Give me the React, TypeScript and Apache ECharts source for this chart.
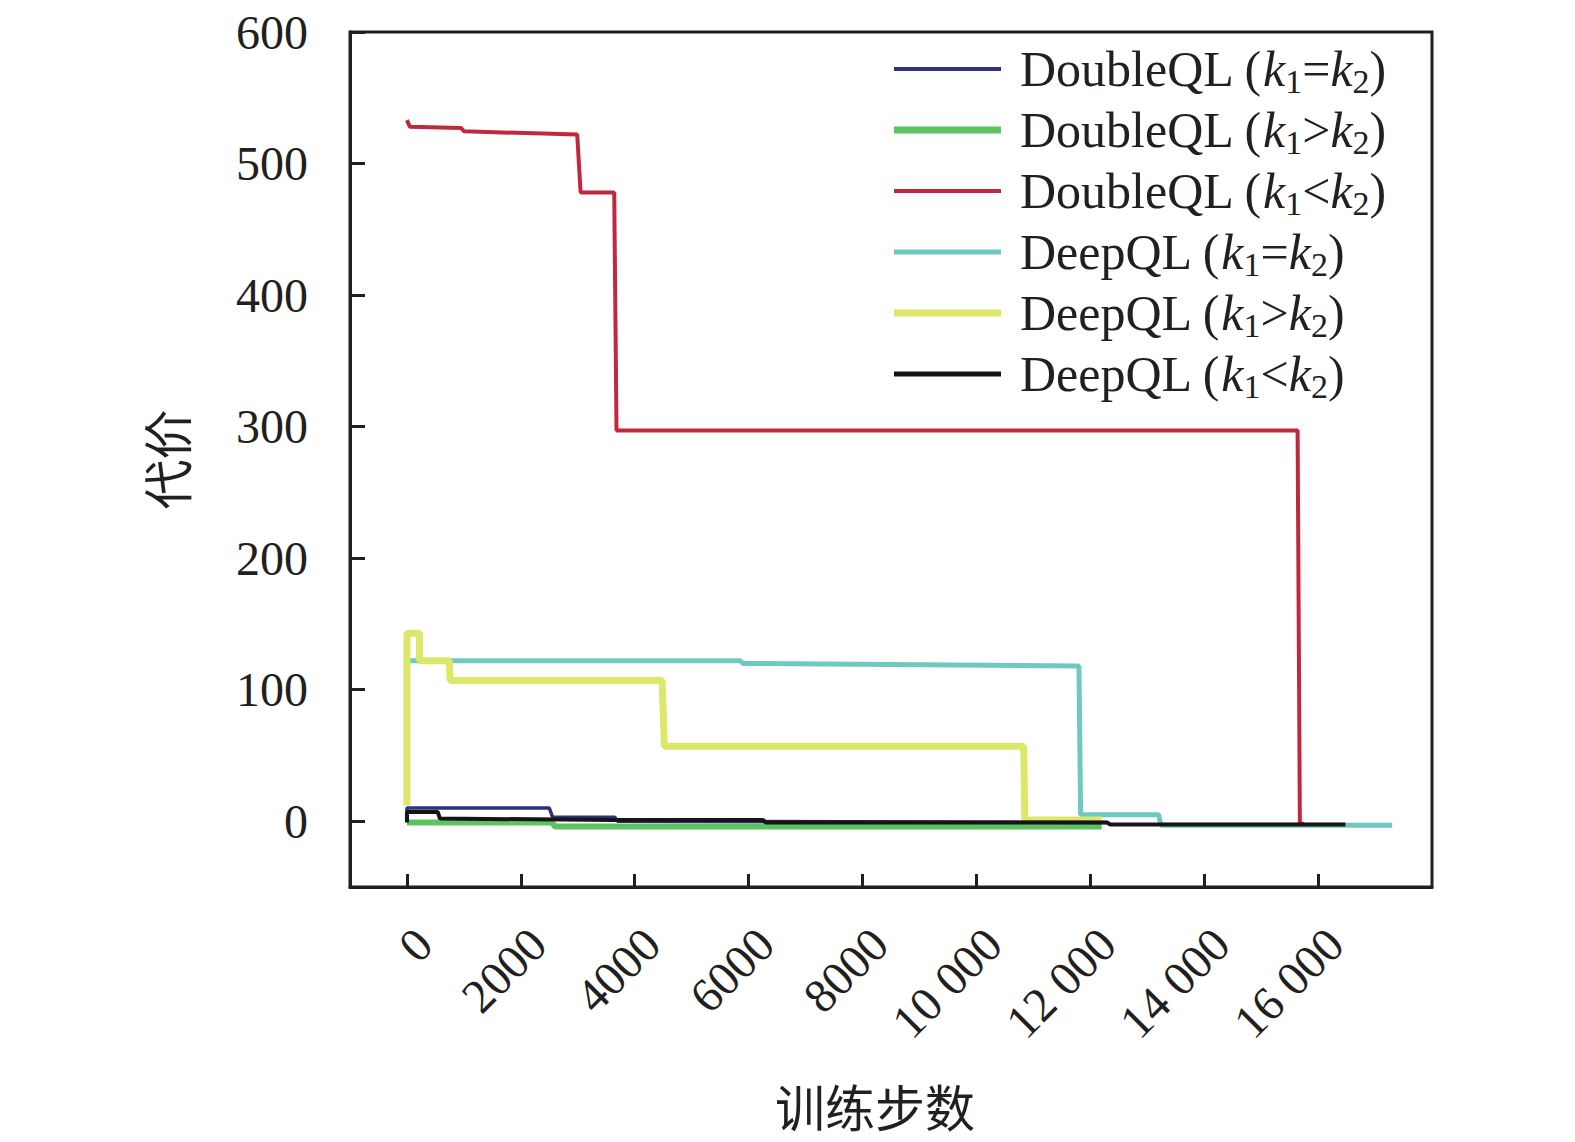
import React, { useEffect, useRef } from "react";
import * as echarts from "echarts";

// ---- data (training step, cost) ----
const doubleEq: [number, number][] = [
  [0, 0], [0, 10], [2500, 10], [2560, 3], [3650, 3], [3700, 0], [12300, -1],
];
const doubleGt: [number, number][] = [
  [0, -1], [2550, -1], [2600, -4], [12200, -4],
];
const doubleLt: [number, number][] = [
  [0, 533], [50, 528], [950, 527], [1000, 524.5], [2990, 522], [3050, 478],
  [3640, 478], [3680, 297], [15640, 297], [15680, -2], [15750, -2],
];
const deepEq: [number, number][] = [
  [0, 122], [5850, 122], [5900, 120], [11800, 118], [11830, 5], [13200, 5],
  [13240, -3], [17300, -3],
];
const deepGt: [number, number][] = [
  [0, 12], [0, 143], [220, 143], [220, 122], [740, 122], [760, 107],
  [4480, 107], [4520, 57], [10830, 57], [10850, 1], [12200, 1],
];
const deepLt: [number, number][] = [
  [0, -1], [0, 7], [540, 7], [580, 2], [3650, 1], [6250, 1], [6300, -1],
  [12300, -1], [12350, -2.5], [16480, -2.5],
];

const seriesNames = [
  "DoubleQL (k1=k2)",
  "DoubleQL (k1>k2)",
  "DoubleQL (k1<k2)",
  "DeepQL (k1=k2)",
  "DeepQL (k1>k2)",
  "DeepQL (k1<k2)",
];
const richNames = [
  "DoubleQL ({i|k}{s|1}={i|k}{s|2})",
  "DoubleQL ({i|k}{s|1}>{i|k}{s|2})",
  "DoubleQL ({i|k}{s|1}<{i|k}{s|2})",
  "DeepQL ({i|k}{s|1}={i|k}{s|2})",
  "DeepQL ({i|k}{s|1}>{i|k}{s|2})",
  "DeepQL ({i|k}{s|1}<{i|k}{s|2})",
];
const xTickValues = [0, 2000, 4000, 6000, 8000, 10000, 12000, 14000, 16000];
const xTickLabels = ["0", "2000", "4000", "6000", "8000", "10 000", "12 000", "14 000", "16 000"];
const yTickValues = [0, 100, 200, 300, 400, 500, 600];
const yTickLabels = ["0", "100", "200", "300", "400", "500", "600"];

const colors = ["#2e3180", "#5dc35f", "#c1283e", "#6fc9c2", "#dde76a", "#151515"];
const widths = [3.5, 6, 4, 5, 7, 4];
const legendThickness = [4, 7, 4, 5, 7, 5];

const SERIF = "'Liberation Serif', 'Times New Roman', serif";
const CJK = "'Noto Sans CJK SC', sans-serif";
const INK = "#231f20";

function bandIcon(t: number): string {
  const h = 14;
  const y0 = (h - t) / 2;
  const y1 = y0 + t;
  return `path://M0,0L0.01,0L0,0.01Z M0,${h}L0.01,${h}L0,${h - 0.01}Z M0,${y0}L107,${y0}L107,${y1}L0,${y1}Z`;
}

export default function App() {
  const ref = useRef<HTMLDivElement>(null);
  useEffect(() => {
    if (!ref.current) return;
    const chart = echarts.init(ref.current, undefined, { renderer: "svg" });
    const datas = [doubleEq, doubleGt, doubleLt, deepEq, deepGt, deepLt];
    // drawing order (later = on top)
    const order = [1, 3, 4, 2, 0, 5];
    const series = order.map((i) => ({
      name: seriesNames[i],
      type: "line",
      data: datas[i],
      showSymbol: false,
      symbol: "none",
      color: colors[i],
      lineStyle: { color: colors[i], width: widths[i] },
      z: 2,
    }));
    chart.setOption({
      animation: false,
      backgroundColor: "#ffffff",
      grid: {
        left: 350,
        right: 143,
        top: 32,
        bottom: 255,
        show: true,
        borderColor: INK,
        borderWidth: 3,
        backgroundColor: "transparent",
      },
      legend: {
        data: seriesNames.map((n, i) => ({
          name: n,
          icon: bandIcon(legendThickness[i]),
          itemStyle: { color: colors[i], borderWidth: 0 },
        })),
        orient: "vertical",
        left: 889,
        top: 35,
        itemWidth: 107,
        itemHeight: 14,
        itemGap: 3,
        formatter: (name: string) => richNames[seriesNames.indexOf(name)],
        textStyle: {
          fontFamily: SERIF,
          fontSize: 50,
          lineHeight: 54,
          color: INK,
          padding: [0, 0, 0, 14],
          rich: {
            i: { fontFamily: SERIF, fontStyle: "italic", fontSize: 50, lineHeight: 54, color: INK },
            s: { fontFamily: SERIF, fontSize: 34, lineHeight: 30, padding: [24, 0, 0, 0], color: INK },
          },
        },
      },
      xAxis: {
        type: "value",
        min: -1000,
        max: 18000,
        interval: 1000,
        name: "训练步数",
        nameLocation: "middle",
        nameGap: 193,
        nameTextStyle: { fontFamily: CJK, fontSize: 50, color: INK, padding: [0, 32, 0, 0] },
        axisLine: { show: true, onZero: false, lineStyle: { color: INK, width: 3 } },
        axisTick: {
          show: true,
          inside: true,
          length: 13,
          lineStyle: { color: INK, width: 3 },
          customValues: xTickValues,
        },
        axisLabel: {
          rotate: 45,
          margin: 66,
          fontFamily: SERIF,
          fontSize: 48,
          color: INK,
          padding: [0, -24, 0, 0],
          customValues: xTickValues,
          formatter: (v: number) => {
            const k = xTickValues.indexOf(v);
            return k >= 0 ? xTickLabels[k] : "";
          },
        },
        splitLine: { show: false },
      },
      yAxis: {
        type: "value",
        min: -50,
        max: 600,
        interval: 50,
        name: "代价",
        nameLocation: "middle",
        nameGap: 160,
        nameRotate: 90,
        nameTextStyle: { fontFamily: CJK, fontSize: 50, color: INK },
        axisLine: { show: true, onZero: false, lineStyle: { color: INK, width: 3 } },
        axisTick: {
          show: true,
          inside: true,
          length: 15,
          lineStyle: { color: INK, width: 3 },
          customValues: yTickValues,
        },
        axisLabel: {
          margin: 42,
          fontFamily: SERIF,
          fontSize: 48,
          color: INK,
          customValues: yTickValues,
          formatter: (v: number) => {
            const k = yTickValues.indexOf(v);
            return k >= 0 ? yTickLabels[k] : "";
          },
        },
        splitLine: { show: false },
      },
      series,
    });
    return () => chart.dispose();
  }, []);
  return (
    <div
      ref={ref}
      style={{ position: "fixed", left: 0, top: 0, width: 1575, height: 1142, background: "#fff" }}
    />
  );
}
